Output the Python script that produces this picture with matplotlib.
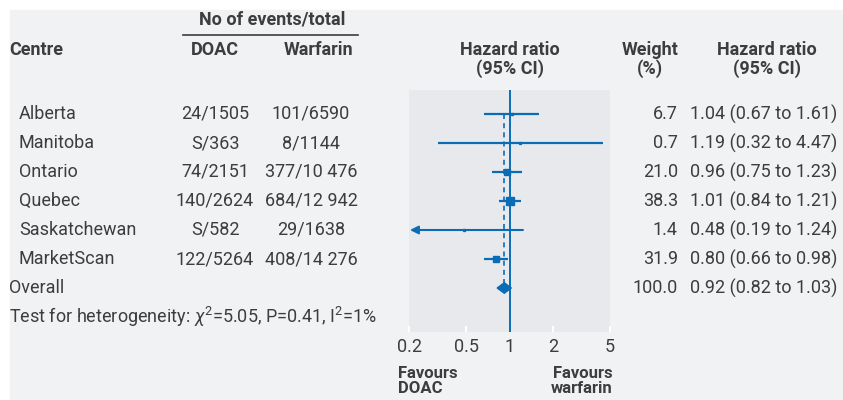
import numpy as np
import matplotlib.pyplot as plt
from matplotlib.patches import Rectangle, Polygon
from matplotlib.lines import Line2D

# data
centres = ['Alberta', 'Manitoba', 'Ontario', 'Quebec', 'Saskatchewan', 'MarketScan']
doac = ['24/1505', 'S/363', '74/2151', '140/2624', 'S/582', '122/5264']
warfarin = ['101/6590', '8/1144', '377/10 476', '684/12 942', '29/1638', '408/14 276']
weight = [6.7, 0.7, 21.0, 38.3, 1.4, 31.9]
hr = [1.04, 1.19, 0.96, 1.01, 0.48, 0.80]
lo = [0.67, 0.32, 0.75, 0.84, 0.19, 0.66]
hi = [1.61, 4.47, 1.23, 1.21, 1.24, 0.98]
overall_weight = 100.0
overall_hr, overall_lo, overall_hi = 0.92, 0.82, 1.03
ticks = [0.2, 0.5, 1, 2, 5]
tick_labels = ['0.2', '0.5', '1', '2', '5']

W, H = 843, 400
BLUE = '#0a6cb5'
TXT = '#3d3d3d'
BG = '#f1f2f4'
PANEL = '#e8e9ec'

plt.rcParams['font.family'] = ['Roboto', 'DejaVu Sans']
plt.rcParams['mathtext.fontset'] = 'custom'
plt.rcParams['mathtext.rm'] = 'Roboto'
plt.rcParams['mathtext.it'] = 'Roboto:italic'
FS = 13

fig = plt.figure(figsize=(W / 100, H / 100), dpi=100, facecolor='white')
fig.patches.append(Rectangle((10 / W, 0), 1, 1 - 10 / H, transform=fig.transFigure,
                             color=BG, zorder=-10))

def fx(x):
    return x / W

def fy(y):
    return 1 - y / H

# forest panel in pixel box
x0, x1, y0, y1 = 409, 610, 90, 332
ax = fig.add_axes([fx(x0), fy(y1), fx(x1 - x0), (y1 - y0) / H])
ax.set_facecolor(PANEL)
for s in ax.spines.values():
    s.set_visible(False)
row_px = 29
top = -(114 - y0) / row_px
ax.set_ylim(top + (y1 - y0) / row_px, top)
ax.set_xscale('log')
ax.set_xlim(0.2, 5)
ax.set_xticks(ticks)
ax.set_xticklabels(tick_labels)
ax.minorticks_off()
ax.tick_params(axis='x', direction='in', length=4, width=1.5, color='white',
               labelcolor=TXT, labelsize=FS, pad=4)
ax.set_yticks([])

n = len(centres)
rows = np.arange(n)
ax.axvline(1, color=BLUE, lw=1.4, zorder=2)
ax.plot([overall_hr, overall_hr], [rows[0], n], color=BLUE, lw=1.2, ls=(0, (3, 2.5)), zorder=2)

for i in rows:
    if lo[i] < 0.2:
        ax.annotate('', xy=(0.203, i), xytext=(hi[i], i),
                    arrowprops=dict(arrowstyle='-|>', color=BLUE, lw=1.5, mutation_scale=12,
                                    shrinkA=0, shrinkB=0), zorder=3)
    else:
        ax.plot([lo[i], hi[i]], [i, i], color=BLUE, lw=1.6, zorder=3, solid_capstyle='butt')
    ms = max(0.82 * np.sqrt(weight[i]), 1.4)
    ax.plot(hr[i], i, marker='s', color=BLUE, ms=ms, mec=BLUE, zorder=4)

dh = 0.18
ax.add_patch(Polygon([(overall_lo, n), (overall_hr, n - dh), (overall_hi, n), (overall_hr, n + dh)],
                     closed=True, color=BLUE, zorder=4))

# headers
bold = dict(color=TXT, fontsize=FS, fontweight='bold')
fig.text(fx(272), fy(20), 'No of events/total', ha='center', va='center', **bold)
fig.add_artist(Line2D([fx(183), fx(358)], [fy(35), fy(35)], color=TXT, lw=1.2))
fig.text(fx(9), fy(50), 'Centre', ha='left', va='center', **bold)
fig.text(fx(215), fy(50), 'DOAC', ha='center', va='center', **bold)
fig.text(fx(318), fy(50), 'Warfarin', ha='center', va='center', **bold)
fig.text(fx(510), fy(50), 'Hazard ratio', ha='center', va='center', **bold)
fig.text(fx(510), fy(69), '(95% CI)', ha='center', va='center', **bold)
fig.text(fx(650), fy(50), 'Weight', ha='center', va='center', **bold)
fig.text(fx(650), fy(69), '(%)', ha='center', va='center', **bold)
fig.text(fx(767), fy(50), 'Hazard ratio', ha='center', va='center', **bold)
fig.text(fx(767), fy(69), '(95% CI)', ha='center', va='center', **bold)

reg = dict(color=TXT, fontsize=FS)
for i in rows:
    y = fy(114 + i * row_px)
    fig.text(fx(19), y, centres[i], ha='left', va='center', **reg)
    fig.text(fx(215), y, doac[i], ha='center', va='center', **reg)
    fig.text(fx(311), y, warfarin[i], ha='center', va='center', **reg)
    fig.text(fx(678), y, f'{weight[i]:.1f}', ha='right', va='center', **reg)
    fig.text(fx(690), y, f'{hr[i]:.2f} ({lo[i]:.2f} to {hi[i]:.2f})', ha='left', va='center', **reg)

y = fy(114 + n * row_px)
fig.text(fx(9), y, 'Overall', ha='left', va='center', **reg)
fig.text(fx(678), y, f'{overall_weight:.1f}', ha='right', va='center', **reg)
fig.text(fx(690), y, f'{overall_hr:.2f} ({overall_lo:.2f} to {overall_hi:.2f})',
         ha='left', va='center', **reg)
fig.text(fx(9), fy(114 + (n + 1) * row_px),
         r'Test for heterogeneity: $\chi^2$=5.05, P=0.41, I$^2$=1%',
         ha='left', va='center', **reg)

fig.text(fx(398), fy(366), 'Favours\nDOAC', ha='left', va='top', fontsize=12,
         color=TXT, fontweight='bold', linespacing=1.0)
fig.text(fx(613), fy(366), 'Favours\nwarfarin', ha='right', va='top', fontsize=12,
         color=TXT, fontweight='bold', linespacing=1.0)

fig.savefig('out.png', dpi=100, facecolor=fig.get_facecolor())
